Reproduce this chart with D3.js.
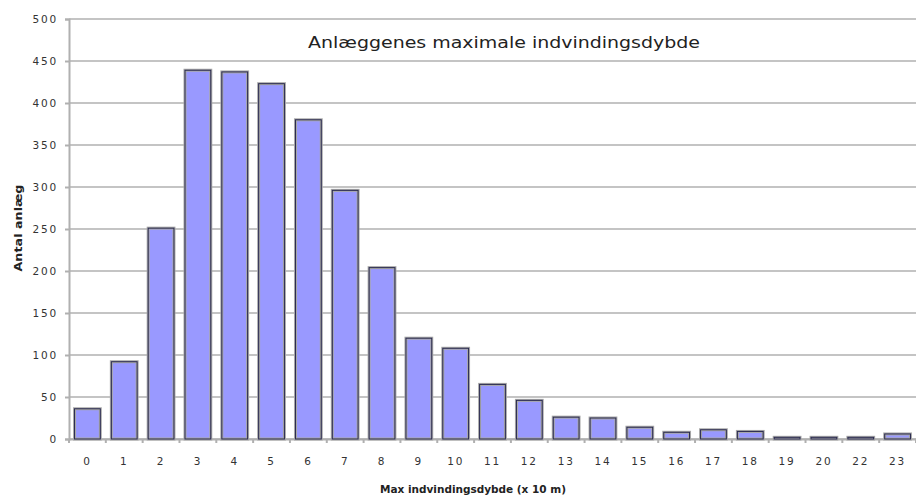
<!DOCTYPE html>
<meta charset="utf-8">
<style>
body { margin: 0; background: #fff; }
text { font-family: "DejaVu Sans", Arial, sans-serif; }
.tick text { font-size: 10.5px; fill: #333; letter-spacing: 1.8px; }
.grid line { stroke: #c4c4c4; stroke-width: 2px; }
</style>
<svg width="916" height="497"></svg>
<script src="https://d3js.org/d3.v7.min.js"></script>
<script>

var categories = ["0","1","2","3","4","5","6","7","8","9","10","11","12","13","14","15","16","17","18","19","20","22","23"];
var counts = [36, 92, 251, 439, 437, 423, 380, 296, 204, 120, 108, 65, 46, 26, 25, 14, 8, 11, 9, 2, 2, 2, 6];
var yTicks = [0, 50, 100, 150, 200, 250, 300, 350, 400, 450, 500];

var data = categories.map(function(c, i) { return {cat: c, value: counts[i]}; });

var svg = d3.select("svg");

var margin = {top: 19, right: 0, bottom: 58, left: 69},
    width = +svg.attr("width") - margin.left - margin.right,
    height = +svg.attr("height") - margin.top - margin.bottom;

var g = svg.append("g")
    .attr("transform", "translate(" + margin.left + "," + margin.top + ")");

var x = d3.scaleBand()
    .domain(categories)
    .range([0, width])
    .paddingInner(0.3)
    .paddingOuter(0.15);

var y = d3.scaleLinear()
    .domain([0, 500])
    .range([height, 0]);

// gridlines
g.append("g")
    .attr("class", "grid")
  .selectAll("line")
    .data(yTicks)
  .enter().append("line")
    .attr("x1", 0)
    .attr("x2", width)
    .attr("y1", function(d) { return y(d); })
    .attr("y2", function(d) { return y(d); });

// title
g.append("text")
    .attr("x", 435)
    .attr("y", 29)
    .attr("text-anchor", "middle")
    .attr("textLength", 392)
    .attr("lengthAdjust", "spacingAndGlyphs")
    .style("font-size", "16px")
    .style("fill", "#222")
    .text("Anlæggenes maximale indvindingsdybde");

// y axis
var yAxis = g.append("g")
    .call(d3.axisLeft(y).tickValues(yTicks).tickSize(4).tickPadding(7));
yAxis.select(".domain").attr("stroke", "#b0b0b0").attr("stroke-width", 2);
yAxis.selectAll(".tick line").attr("stroke", "#b0b0b0").attr("stroke-width", 2);

// x axis, ticks sit between bands
var xAxis = g.append("g")
    .attr("transform", "translate(0," + height + ")")
    .call(d3.axisBottom(x).tickSize(0).tickPadding(19));
xAxis.select(".domain").attr("stroke", "#b0b0b0").attr("stroke-width", 2);

var step = x.step();
g.append("g")
  .selectAll("line")
    .data(d3.range(categories.length + 1))
  .enter().append("line")
    .attr("x1", function(i) { return i * step; })
    .attr("x2", function(i) { return i * step; })
    .attr("y1", height)
    .attr("y2", height + 4)
    .attr("stroke", "#b0b0b0")
    .attr("stroke-width", 2);

// bars: gray halo, then dark outline
var bars = g.selectAll(".bar")
    .data(data)
  .enter().append("g")
    .attr("class", "bar");

bars.append("rect")
    .attr("x", function(d) { return x(d.cat); })
    .attr("y", function(d) { return y(d.value); })
    .attr("width", x.bandwidth())
    .attr("height", function(d) { return height - y(d.value); })
    .attr("fill", "#9999ff")
    .attr("stroke", "#a8a8a8")
    .attr("stroke-width", 3);

bars.append("rect")
    .attr("x", function(d) { return x(d.cat); })
    .attr("y", function(d) { return y(d.value); })
    .attr("width", x.bandwidth())
    .attr("height", function(d) { return height - y(d.value); })
    .attr("fill", "none")
    .attr("stroke", "#2a2a50")
    .attr("stroke-width", 1);

// axis titles
svg.append("text")
    .attr("transform", "translate(22,228) rotate(-90)")
    .attr("text-anchor", "middle")
    .attr("textLength", 87)
    .attr("lengthAdjust", "spacingAndGlyphs")
    .style("font-size", "10px")
    .style("font-weight", "bold")
    .style("fill", "#222")
    .text("Antal anlæg");

svg.append("text")
    .attr("x", 473)
    .attr("y", 493)
    .attr("text-anchor", "middle")
    .attr("textLength", 186)
    .attr("lengthAdjust", "spacingAndGlyphs")
    .style("font-size", "10px")
    .style("font-weight", "bold")
    .style("fill", "#222")
    .text("Max indvindingsdybde (x 10 m)");

</script>
